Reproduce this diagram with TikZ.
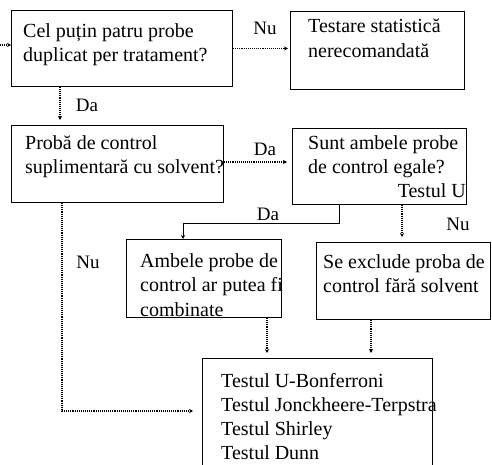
\documentclass[tikz,border=0pt]{standalone}
\usepackage{fontspec}
\setmainfont{Liberation Serif}
\usepackage{tikz}
\usetikzlibrary{arrows.meta, positioning, calc}

\begin{document}
\begin{tikzpicture}[
    x=1pt, y=-1pt,
    box/.style={rectangle, draw, line width=1pt, anchor=north west, inner sep=0pt},
    txt/.style={anchor=north west, align=left, inner sep=0pt, font=\fontsize{20}{24.5}\selectfont},
    lbl/.style={inner sep=0pt, font=\fontsize{19}{21}\selectfont},
    link/.style={-{Stealth[length=4pt,width=4pt]}, densely dotted, line width=1.1pt, shorten >=5pt},
    solidlink/.style={-{Stealth[length=4pt,width=4pt]}, line width=0.9pt}
]
\clip (0,0) rectangle (492,465);
\fill[white] (0,0) rectangle (492,465);

% Question boxes
\node[box, minimum width=221pt, minimum height=76pt] (b1) at (11,10) {};
\node[txt] (t1) at (23,23) {Cel puțin patru probe\\duplicat per tratament?};

\node[box, minimum width=174pt, minimum height=78pt] (b2) at (290,11) {};
\node[txt] (t2) at (308,19) {Testare statistică\\nerecomandată};

\node[box, minimum width=212pt, minimum height=77pt] (b3) at (11,125) {};
\node[txt] (t3) at (25,135) {Probă de control\\suplimentară cu solvent?};

\node[box, minimum width=174pt, minimum height=76pt] (b4) at (292,128) {};
\node[txt] (t4) at (308,135) {Sunt ambele probe\\de control egale?};
\node[lbl, anchor=base east, font=\fontsize{20}{24.5}\selectfont] (tu) at (466,197) {Testul U};

% Outcome boxes
\node[box, minimum width=155pt, minimum height=78pt] (b5) at (126,239) {};
\node[txt] (t5) at (140,253) {Ambele probe de\\control ar putea fi\\combinate};

\node[box, minimum width=174pt, minimum height=77pt] (b6) at (316,242) {};
\node[txt] (t6) at (323,254) {Se exclude proba de\\control fără solvent};

\node[box, minimum width=230pt, minimum height=130pt] (b7) at (202,358) {};
\node[txt, font=\fontsize{20}{24}\selectfont] (t7) at (221,373) {Testul U-Bonferroni\\Testul Jonckheere-Terpstra\\Testul Shirley\\Testul Dunn};

% Connectors
\coordinate (in1) at (0,45);
\draw[link, shorten >=0pt] (in1) -- (in1 -| b1.west);
\draw[link, shorten >=2pt] (b1.east) -- (b1.east -| b2.west);
\draw[link] ($(b1.south west)+(49,0)$) -- ($(b3.north west)+(49,0)$);
\draw[link] ($(b3.north east)+(0,37)$) -- ($(b4.north west)+(0,34)$);
\coordinate (d1) at (339,223);
\draw[solidlink] (b4.south -| d1) -- (d1) -| ($(b5.north west)+(57,0)$);
\draw[link] ($(b4.south west)+(110,0)$) -- ($(b6.north west)+(86,0)$);
\draw[link, shorten >=9pt] ($(b3.south west)+(51,0)$) |- ($(b7.north west)+(0,53)$);
\draw[link] ($(b5.south west)+(141,0)$) -- ($(b7.north west)+(65,0)$);
\draw[link] ($(b6.south west)+(55,0)$) -- ($(b7.north west)+(169,0)$);

% Labels
\node[lbl] (nu1) at (265,28) {Nu};
\node[lbl] (da1) at (87,105) {Da};
\node[lbl] (da2) at (265,149) {Da};
\node[lbl] (da3) at (268,214) {Da};
\node[lbl] (nu2) at (458,224) {Nu};
\node[lbl] (nu3) at (88,262) {Nu};
\end{tikzpicture}
\end{document}
